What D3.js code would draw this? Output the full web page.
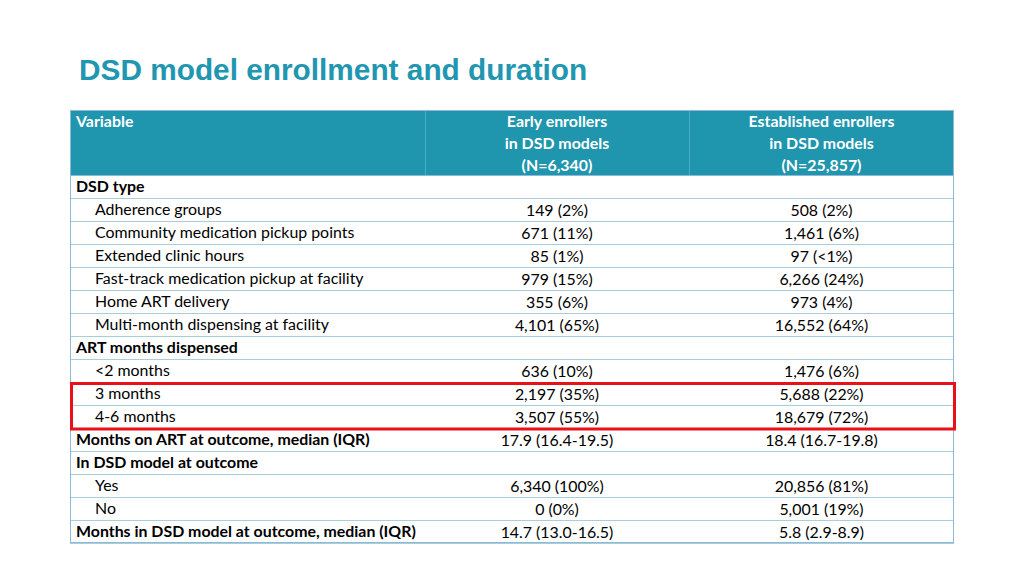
<!DOCTYPE html>
<html><head><meta charset="utf-8">
<script src="https://cdn.jsdelivr.net/npm/d3@7"></script>
<style>
html,body{margin:0;padding:0;background:#fff;}
svg{display:block;}
</style></head>
<body><svg id="chart" width="1024" height="576"></svg>
<script>
const title = "DSD model enrollment and duration";
const headerCols = ["Variable", "Early enrollers|in DSD models|(N=6,340)", "Established enrollers|in DSD models|(N=25,857)"];
const rowLabels = [
  "DSD type", "Adherence groups", "Community medication pickup points", "Extended clinic hours",
  "Fast-track medication pickup at facility", "Home ART delivery", "Multi-month dispensing at facility",
  "ART months dispensed", "<2 months", "3 months", "4-6 months",
  "Months on ART at outcome, median (IQR)", "In DSD model at outcome", "Yes", "No",
  "Months in DSD model at outcome, median (IQR)"
];
const rowIsHeading = [1,0,0,0,0,0,0,1,0,0,0,1,1,0,0,1];
const earlyValues = ["", "149 (2%)", "671 (11%)", "85 (1%)", "979 (15%)", "355 (6%)", "4,101 (65%)",
  "", "636 (10%)", "2,197 (35%)", "3,507 (55%)", "17.9 (16.4-19.5)", "", "6,340 (100%)", "0 (0%)", "14.7 (13.0-16.5)"];
const establishedValues = ["", "508 (2%)", "1,461 (6%)", "97 (<1%)", "6,266 (24%)", "973 (4%)", "16,552 (64%)",
  "", "1,476 (6%)", "5,688 (22%)", "18,679 (72%)", "18.4 (16.7-19.8)", "", "20,856 (81%)", "5,001 (19%)", "5.8 (2.9-8.9)"];
const highlightRows = ["3 months", "4-6 months"];

const svg = d3.select("#chart");
const font = "Lato, 'Open Sans', sans-serif";
const fs = 15.9;

svg.append("text").attr("x", 79).attr("y", 80)
  .attr("font-family", "'Liberation Sans', Arial, sans-serif").attr("font-weight", "bold")
  .attr("font-size", 29.8).attr("fill", "#2196b0").text(title);

const left = 70, right = 954, headTop = 110, headBottom = 175, rowH = 23;
const colEdges = [left, 425, 689, right];
const y = d3.scaleBand().domain(d3.range(rowLabels.length)).range([headBottom, headBottom + rowH * rowLabels.length]).padding(0);

// header
svg.append("rect").attr("x", left).attr("y", headTop).attr("width", right - left).attr("height", headBottom - headTop).attr("fill", "#1f95ae");
[colEdges[1], colEdges[2]].forEach(x => svg.append("line").attr("x1", x + 0.5).attr("x2", x + 0.5).attr("y1", headTop).attr("y2", headBottom).attr("stroke", "#46aec6").attr("stroke-width", 1));

svg.append("text").attr("x", 76).attr("y", 127).attr("font-family", font).attr("font-weight", "bold")
  .attr("font-size", fs).attr("fill", "#fff").text(headerCols[0]);
headerCols.slice(1).forEach((h, i) => {
  const cx = (colEdges[i + 1] + colEdges[i + 2]) / 2;
  h.split("|").forEach((line, j) => {
    svg.append("text").attr("x", cx).attr("y", 127 + j * 22).attr("text-anchor", "middle")
      .attr("font-family", font).attr("font-weight", "bold").attr("font-size", fs).attr("fill", "#fff").text(line);
  });
});

// rows
const rows = svg.append("g").selectAll("g").data(rowLabels).join("g")
  .attr("transform", (d, i) => `translate(0,${y(i)})`);
rows.append("line").attr("x1", left).attr("x2", right).attr("y1", rowH + 0.5).attr("y2", rowH + 0.5)
  .attr("stroke", "#a9cedb").attr("stroke-width", 1);
rows.append("text").attr("x", (d, i) => rowIsHeading[i] ? 76 : 95).attr("y", 16.8)
  .attr("font-family", font).attr("font-weight", (d, i) => rowIsHeading[i] ? "bold" : "normal")
  .attr("font-size", fs).attr("fill", "#000").text(d => d);
rows.append("text").attr("x", (colEdges[1] + colEdges[2]) / 2).attr("y", 17.8).attr("text-anchor", "middle")
  .attr("font-family", font).attr("font-size", fs).attr("fill", "#000").text((d, i) => earlyValues[i]);
rows.append("text").attr("x", (colEdges[2] + colEdges[3]) / 2).attr("y", 17.8).attr("text-anchor", "middle")
  .attr("font-family", font).attr("font-size", fs).attr("fill", "#000").text((d, i) => establishedValues[i]);

// outer border
svg.append("rect").attr("x", left + 0.5).attr("y", headTop + 0.5).attr("width", right - left - 1)
  .attr("height", headBottom + rowH * rowLabels.length - headTop - 1)
  .attr("fill", "none").attr("stroke", "#8db8d8").attr("stroke-width", 1);
svg.append("line").attr("x1", left).attr("x2", right).attr("y1", headBottom + 0.5).attr("y2", headBottom + 0.5).attr("stroke", "#8db8d8");

// highlight box
const hi = highlightRows.map(r => rowLabels.indexOf(r));
svg.append("rect").attr("x", left + 1.5).attr("y", y(hi[0]) + 1.5)
  .attr("width", right - left - 1).attr("height", y(hi[1]) + rowH - y(hi[0]) - 0.5)
  .attr("fill", "none").attr("stroke", "#e8101a").attr("stroke-width", 3);
</script></body></html>
